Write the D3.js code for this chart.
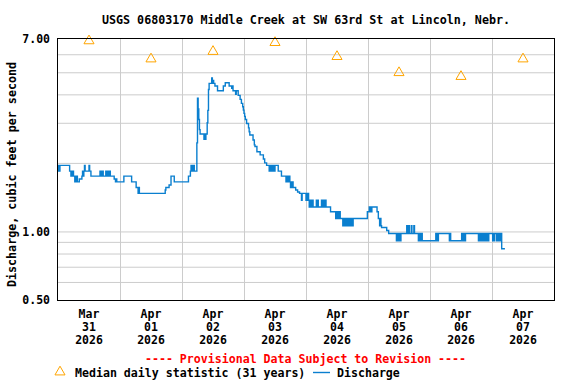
<!DOCTYPE html>
<html>
<head>
<meta charset="utf-8">
<script src="https://cdn.jsdelivr.net/npm/d3@7"></script>
<style>
html,body{margin:0;padding:0;background:#fff;}
svg{display:block;}
text{font-family:"DejaVu Sans Mono",monospace;font-weight:bold;}
</style>
</head>
<body>
<svg id="chart" width="576" height="384"></svg>
<script>
// ---------- data ----------
const titleText = "USGS 06803170 Middle Creek at SW 63rd St at Lincoln, Nebr.";
const yLabelText = "Discharge, cubic feet per second";
const provisionalText = "---- Provisional Data Subject to Revision ----";
const legendMedian = "Median daily statistic (31 years)";
const legendDischarge = "Discharge";

// day labels (tick at noon of each day)
const dayMonth = ["Mar","Apr","Apr","Apr","Apr","Apr","Apr","Apr"];
const dayNum   = ["31","01","02","03","04","05","06","07"];
const dayYear  = ["2026","2026","2026","2026","2026","2026","2026","2026"];
const dayDates = ["2026-03-31","2026-04-01","2026-04-02","2026-04-03","2026-04-04","2026-04-05","2026-04-06","2026-04-07"];

// median daily statistic (cfs), one per day
const medianValues = [6.87, 5.72, 6.17, 6.75, 5.86, 4.98, 4.79, 5.72];

// y-axis
const yTickLabels = [0.5, 1, 7];
const yGridValues = [0.6, 0.7, 0.8, 0.9, 1, 2, 3, 4, 5, 6];

// discharge: hours since 2026-03-31 00:00 and value (cfs), stepwise
const qHours = [
 0,0.25,0.5,0.75,1.0,4.5,5.0,5.25,5.5,5.75,6.0,6.5,6.75,7.0,7.25,7.5,8.25,9.25,9.5,9.75,10.0,10.25,10.5,12.0,12.25,12.75,13.0,
 16.25,16.5,16.75,17.0,17.25,17.5,18.5,18.75,19.0,19.25,19.5,19.75,20.0,20.25,20.5,21.75,22.25,22.5,22.75,25.5,28.5,30.25,31.0,31.25,31.5,
 41.5,41.75,43.0,43.75,45.0,50.5,51.25,51.5,51.75,52.0,52.25,52.5,52.75,53.75,
 54.0,54.25,54.5,54.75,55.0,56.5,56.75,57.0,57.25,57.75,58.0,58.25,58.5,59.5,59.75,60.0,60.25,60.75,61.75,64.0,64.75,66.25,67.25,67.5,67.75,
 68.75,69.0,69.75,70.5,71.0,71.5,71.75,72.0,72.25,72.5,73.0,73.75,74.0,74.25,75.5,76.0,76.25,77.0,78.25,79.5,80.0,80.75,
 81.75,82.0,82.25,82.5,82.75,83.0,83.25,83.5,83.75,84.0,85.25,86.5,88.25,88.5,88.75,89.0,89.25,89.5,89.75,90.0,90.25,90.5,90.75,91.0,
 92.0,92.75,93.5,94.25,94.5,96.0,96.25,96.5,96.75,97.0,97.25,97.5,97.75,98.0,98.25,98.5,98.75,100.0,100.25,100.5,100.75,
 102.0,102.25,102.5,102.75,103.0,103.25,103.5,103.75,105.5,107.5,107.75,108.0,108.25,108.5,108.75,109.25,
 110.25,110.5,110.75,111.0,111.25,111.5,111.75,112.0,112.5,112.75,113.0,113.25,113.5,113.75,114.0,114.25,119.75,
 120.5,120.75,121.0,121.25,121.5,123.5,124.0,124.5,124.75,125.0,125.25,127.25,128.0,
 131.0,131.25,131.5,131.75,132.0,132.25,132.5,132.75,135.0,135.25,135.75,136.0,136.75,137.0,137.75,138.0,
 139.5,139.75,140.0,140.25,140.5,140.75,141.0,146.25,146.5,146.75,147.0,147.25,151.5,151.75,152.0,
 156.25,156.5,156.75,157.0,157.25,157.5,157.75,
 162.75,163.0,163.25,163.5,163.75,164.0,164.25,164.5,165.0,165.25,165.5,165.75,166.0,166.25,166.5,166.75,
 168.25,168.5,168.75,169.0,169.75,170.0,170.25,170.5,170.75,171.0,171.25,171.5,171.75,173.0
];
const qValues = [
 1.84,1.95,1.84,1.95,1.95,1.84,1.75,1.84,1.75,1.84,1.75,1.65,1.75,1.65,1.75,1.65,1.70,1.75,1.84,1.75,1.84,1.95,1.84,1.95,1.84,1.75,1.75,
 1.84,1.75,1.84,1.75,1.84,1.75,1.84,1.75,1.84,1.75,1.84,1.75,1.84,1.75,1.75,1.70,1.65,1.70,1.65,1.75,1.65,1.56,1.47,1.56,1.47,
 1.52,1.56,1.60,1.75,1.65,1.75,1.84,1.95,1.84,1.95,1.84,1.95,1.84,2.45,
 3.85,3.45,3.10,2.80,2.68,2.54,2.68,2.54,2.68,3.00,3.40,4.20,4.47,4.72,4.47,4.60,4.47,4.35,4.15,4.35,4.50,4.35,4.25,4.35,4.15,
 4.00,4.15,3.96,3.80,3.65,3.53,3.41,3.30,3.20,3.10,2.98,2.85,2.74,2.65,2.52,2.40,2.36,2.24,2.17,2.08,2.00,1.95,
 1.84,1.95,1.84,1.95,1.84,1.95,1.84,1.95,1.84,1.95,1.84,1.75,1.65,1.75,1.65,1.75,1.65,1.75,1.65,1.56,1.65,1.56,1.65,1.56,
 1.52,1.49,1.47,1.37,1.47,1.37,1.47,1.37,1.47,1.37,1.28,1.37,1.28,1.37,1.28,1.37,1.28,1.37,1.28,1.37,1.28,
 1.37,1.28,1.37,1.28,1.37,1.28,1.37,1.28,1.22,1.14,1.22,1.14,1.22,1.14,1.22,1.14,
 1.06,1.14,1.06,1.14,1.06,1.14,1.06,1.14,1.06,1.14,1.06,1.14,1.06,1.14,1.06,1.14,1.22,
 1.28,1.22,1.28,1.22,1.28,1.22,1.14,1.06,1.14,1.06,1.04,1.01,0.98,
 0.91,0.98,0.91,0.98,0.91,0.98,0.91,0.98,1.06,0.98,1.06,0.98,1.06,0.98,1.06,0.98,
 0.91,0.98,0.91,0.98,0.91,0.98,0.91,0.98,0.91,0.98,0.91,0.98,0.91,0.98,0.91,
 0.98,0.91,0.98,0.91,0.98,0.91,0.98,
 0.91,0.98,0.91,0.98,0.91,0.98,0.91,0.98,0.91,0.98,0.91,0.98,0.91,0.98,0.91,0.98,
 0.91,0.98,0.91,0.98,0.91,0.98,0.91,0.98,0.91,0.98,0.91,0.98,0.84,0.84
];

// ---------- chart ----------
const svg = d3.select("#chart");
const W = 576, H = 384;
const margin = {left: 58, right: 22, top: 39, bottom: 84};
const x0 = margin.left, x1 = W - margin.right, y0 = margin.top, y1 = H - margin.bottom;

const startT = Date.UTC(2026, 2, 31);
const x = d3.scaleUtc().domain([new Date(startT), new Date(Date.UTC(2026, 3, 8))]).range([x0, x1]);
const y = d3.scaleLog().domain([0.5, 7]).range([y1, y0]);
const hourToDate = h => new Date(startT + h * 3600e3);

svg.append("rect").attr("width", W).attr("height", H).attr("fill", "#fff");

// horizontal grid
svg.append("g")
  .attr("transform", `translate(${x0},0)`)
  .call(d3.axisLeft(y).tickValues(yGridValues).tickSize(-(x1 - x0)).tickFormat(""))
  .call(g => g.select(".domain").remove())
  .call(g => g.selectAll("line").attr("stroke", "#cccccc").attr("stroke-width", 1));

// vertical grid at midnights
const midnights = d3.utcDay.range(new Date(startT + 1), x.domain()[1]);
svg.append("g")
  .attr("transform", `translate(0,${y1})`)
  .call(d3.axisBottom(x).tickValues(midnights).tickSize(-(y1 - y0)).tickFormat(""))
  .call(g => g.select(".domain").remove())
  .call(g => g.selectAll("line").attr("stroke", "#cccccc").attr("stroke-width", 1));

// y tick labels
svg.append("g")
  .attr("transform", `translate(${x0},0)`)
  .call(d3.axisLeft(y).tickValues(yTickLabels).tickSize(0).tickPadding(8).tickFormat(d3.format(".2f")))
  .call(g => g.select(".domain").remove())
  .call(g => g.selectAll("text").attr("fill", "#000").style("font-size", "11.5px")
     .style("font-family", "'DejaVu Sans Mono',monospace").style("font-weight", "bold"));

// discharge line
const pts = qHours.map((h, i) => [hourToDate(h), qValues[i]]);
const line = d3.line().x(d => x(d[0])).y(d => y(d[1])).curve(d3.curveStepAfter);
svg.append("path").datum(pts)
  .attr("fill", "none").attr("stroke", "#0a7fcf").attr("stroke-width", 1.4)
  .attr("d", line);

// median triangles at noon
const noon = dayDates.map(s => new Date(Date.parse(s + "T12:00:00Z")));
svg.append("g").selectAll("path").data(medianValues).join("path")
  .attr("transform", (d, i) => `translate(${x(noon[i])},${y(d)})`)
  .attr("d", d3.symbol(d3.symbolTriangle, 44)())
  .attr("fill", "none").attr("stroke", "#ffa500").attr("stroke-width", 1);

// frame
svg.append("rect").attr("x", x0 - 0.5).attr("y", y0 - 0.5).attr("width", x1 - x0 + 1).attr("height", y1 - y0 + 1)
  .attr("fill", "none").attr("stroke", "#000").attr("stroke-width", 1);

// x labels
const xl = svg.append("g").selectAll("text").data(dayDates).join("text")
  .attr("x", (d, i) => x(noon[i])).attr("y", y1 + 18)
  .attr("text-anchor", "middle").style("font-size", "11.5px").attr("fill", "#000");
xl.append("tspan").attr("x", (d, i) => x(noon[i])).attr("dy", 0).text((d, i) => dayMonth[i]);
xl.append("tspan").attr("x", (d, i) => x(noon[i])).attr("dy", 13.2).text((d, i) => dayNum[i]);
xl.append("tspan").attr("x", (d, i) => x(noon[i])).attr("dy", 13.2).text((d, i) => dayYear[i]);

// title
svg.append("text").attr("x", (x0 + x1) / 2).attr("y", 24).attr("text-anchor", "middle")
  .style("font-size", "11.7px").attr("fill", "#000").text(titleText);

// y label
svg.append("text").attr("transform", `translate(16,${(y0 + y1) / 2 + 5}) rotate(-90)`)
  .attr("text-anchor", "middle").style("font-size", "11.7px").attr("fill", "#000").text(yLabelText);

// provisional
svg.append("text").attr("x", 305.5).attr("y", 363).attr("text-anchor", "middle")
  .style("font-size", "11.6px").attr("fill", "#ff0000").text(provisionalText);

// legend
svg.append("path").attr("transform", "translate(60,372)")
  .attr("d", d3.symbol(d3.symbolTriangle, 44)())
  .attr("fill", "none").attr("stroke", "#ffa500").attr("stroke-width", 1);
svg.append("text").attr("x", 75).attr("y", 377).style("font-size", "11.6px").attr("fill", "#000").text(legendMedian);
svg.append("line").attr("x1", 313).attr("x2", 330).attr("y1", 372.5).attr("y2", 372.5)
  .attr("stroke", "#0a7fcf").attr("stroke-width", 1.4);
svg.append("text").attr("x", 337).attr("y", 377).style("font-size", "11.6px").attr("fill", "#000").text(legendDischarge);
</script>
</body>
</html>
